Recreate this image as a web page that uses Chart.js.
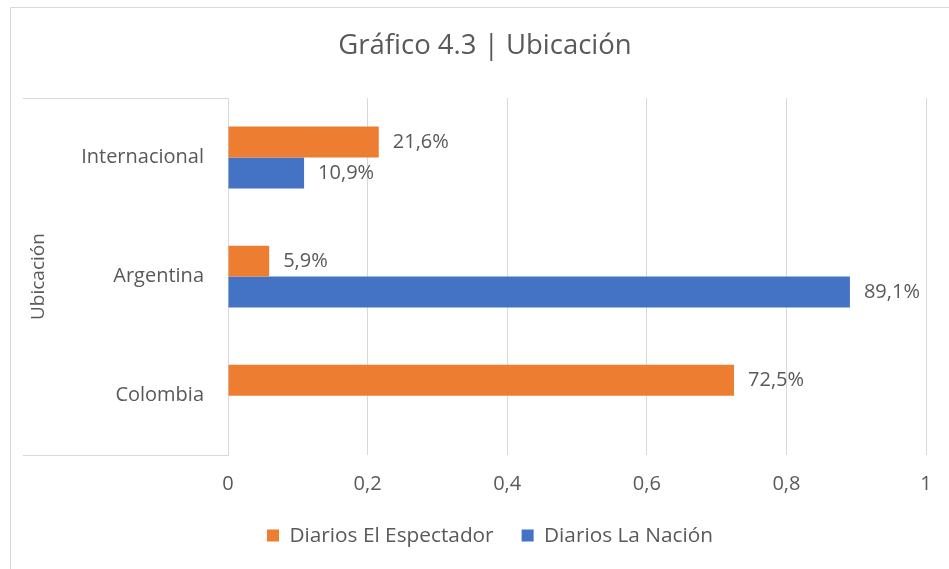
<!DOCTYPE html>
<html>
<head>
<meta charset="utf-8">
<script src="https://cdn.jsdelivr.net/npm/chart.js@4.4.0/dist/chart.umd.min.js"></script>
<style>
  html, body { margin: 0; padding: 0; background: #fff; }
  #wrap { width: 949px; height: 569px; }
</style>
</head>
<body>
<div id="wrap"><canvas id="myChart" width="949" height="569"></canvas></div>
<script>
document.addEventListener("DOMContentLoaded", function () {

    const chartTitle = 'Gráfico 4.3 | Ubicación';
    const categories = ['Internacional', 'Argentina', 'Colombia'];
    const espectador = [0.216, 0.059, 0.725];
    const nacion = [0.109, 0.891, 0];
    const xTicks = [0, 0.2, 0.4, 0.6, 0.8, 1];

    const textColor = '#595959';
    const gridColor = '#d9d9d9';
    const fontFam = "'Open Sans', sans-serif";

    // outer frame, title (centred on the full excel frame) and category box lines
    const framePlugin = {
        id: 'frame',
        afterLayout(chart) {
            // excel centres the legend on the whole frame, which is wider than the crop
            const lg = chart.legend;
            if (lg) {
                lg.left += 27;
                lg.right += 27;
            }
        },
        beforeDraw(chart) {
            const c = chart.ctx;
            const area = chart.chartArea;
            c.save();
            c.strokeStyle = gridColor;
            c.lineWidth = 1;
            c.beginPath();
            c.moveTo(10.5, 569);
            c.lineTo(10.5, 7.5);
            c.lineTo(949, 7.5);
            c.moveTo(23, Math.round(area.top) + 0.5);
            c.lineTo(area.left, Math.round(area.top) + 0.5);
            c.moveTo(23, Math.round(area.bottom) + 0.5);
            c.lineTo(area.left, Math.round(area.bottom) + 0.5);
            c.stroke();

            c.fillStyle = textColor;
            c.font = "27.5px " + fontFam;
            c.textAlign = 'center';
            c.textBaseline = 'middle';
            c.fillText(chartTitle, 485, 46);
            c.restore();
        }
    };

    // percentage labels next to the bars
    const labelPlugin = {
        id: 'barLabels',
        afterDatasetsDraw(chart) {
            const c = chart.ctx;
            c.save();
            c.fillStyle = textColor;
            c.font = "20px " + fontFam;
            c.textBaseline = 'middle';
            c.textAlign = 'left';
            chart.data.datasets.forEach((ds, i) => {
                chart.getDatasetMeta(i).data.forEach((bar, j) => {
                    const v = ds.data[j];
                    if (!v) return;
                    const txt = (v * 100).toFixed(1).replace('.', ',') + '%';
                    c.fillText(txt, bar.x + 14, bar.y);
                });
            });
            c.restore();
        }
    };

    const ctx = document.getElementById('myChart').getContext('2d');
    new Chart(ctx, {
        type: 'bar',
        data: {
            labels: categories,
            datasets: [
                {
                    label: 'Diarios El Espectador',
                    data: espectador,
                    backgroundColor: '#ED7D31',
                    categoryPercentage: 0.52,
                    barPercentage: 1
                },
                {
                    label: 'Diarios La Nación',
                    data: nacion,
                    backgroundColor: '#4472C4',
                    categoryPercentage: 0.52,
                    barPercentage: 1
                }
            ]
        },
        options: {
            indexAxis: 'y',
            responsive: false,
            animation: false,
            layout: { padding: { left: 0, right: 23, top: 98, bottom: 13 } },
            scales: {
                x: {
                    min: 0,
                    max: 1,
                    afterBuildTicks(scale) {
                        scale.ticks = xTicks.map(v => ({ value: v }));
                    },
                    afterFit(scale) { scale.height = 42; },
                    grid: { color: gridColor, drawTicks: false },
                    border: { display: false },
                    ticks: {
                        padding: 17,
                        color: textColor,
                        font: { family: fontFam, size: 20 },
                        callback: v => String(v).replace('.', ',')
                    }
                },
                y: {
                    afterFit(scale) { scale.width = 228; },
                    grid: { display: false, drawTicks: false },
                    border: { display: true, color: gridColor },
                    ticks: {
                        padding: 24,
                        color: textColor,
                        font: { family: fontFam, size: 20 }
                    },
                    title: {
                        display: true,
                        text: 'Ubicación',
                        color: textColor,
                        font: { family: fontFam, size: 19 },
                        padding: { top: 27, bottom: 0 }
                    }
                }
            },
            plugins: {
                title: { display: false },
                legend: {
                    position: 'bottom',
                    labels: {
                        color: textColor,
                        font: { family: fontFam, size: 20.8 },
                        boxWidth: 12,
                        boxHeight: 12,
                        padding: 28
                    }
                },
                tooltip: { enabled: false }
            }
        },
        plugins: [framePlugin, labelPlugin]
    });
});
</script>
</body>
</html>
